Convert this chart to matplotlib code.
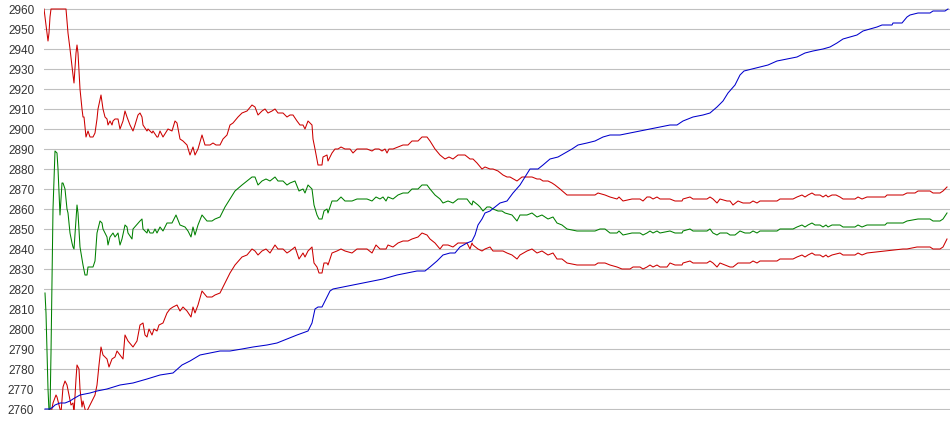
import matplotlib
matplotlib.use("Agg")
import matplotlib.pyplot as plt

# bar index (x) and price levels
up_x = [44, 46, 47, 48, 49, 50, 51, 66, 68, 70, 72, 73, 74, 76, 77, 78, 80, 82, 83, 84, 86, 88, 90, 93, 95, 97, 98,
        101, 103, 105, 107, 108, 110, 112, 113, 115, 118, 120, 123, 125, 127, 130, 133, 135, 138, 140, 142, 143, 147,
        148, 152, 153, 157, 158, 160, 163, 168, 172, 175, 177, 180, 183, 187, 190, 193, 195, 198, 202, 205, 210, 213,
        216, 220, 223, 227, 230, 233, 238, 242, 247, 252, 255, 258, 262, 265, 268, 272, 275, 278, 283, 287, 290, 293,
        297, 300, 303, 305, 308, 312, 313, 315, 318, 322, 323, 327, 328, 332, 335, 338, 341, 345, 350, 353, 357, 367,
        372, 375, 379, 382, 385, 387, 389, 393, 398, 403, 408, 412, 418, 422, 427, 430, 435, 440, 445, 449, 453, 458,
        465, 470, 473, 477, 482, 485, 490, 493, 498, 503, 507, 510, 517, 522, 527, 532, 537, 540, 543, 548, 552, 555,
        560, 567, 577, 595, 598, 605, 610, 617, 619, 623, 632, 640, 643, 647, 650, 653, 657, 660, 670, 675, 682, 683,
        690, 693, 707, 710, 713, 717, 720, 727, 730, 733, 738, 743, 750, 753, 757, 760, 777, 780, 793, 797, 802, 805,
        808, 812, 815, 820, 823, 826, 828, 832, 836, 840, 843, 855, 858, 862, 867, 885, 887, 903, 907, 915, 918, 930,
        933, 940, 943, 947]
upper = [2960, 2952, 2948, 2944, 2948, 2956, 2960, 2960, 2948, 2940, 2931, 2927, 2923, 2938, 2942, 2938, 2920, 2910,
         2906, 2906, 2896, 2899, 2896, 2896, 2898, 2905, 2910, 2917, 2910, 2906, 2905, 2902, 2904, 2902, 2904, 2905,
         2905, 2900, 2904, 2909, 2906, 2902, 2899, 2902, 2907, 2908, 2906, 2902, 2899, 2900, 2898, 2899, 2896, 2896,
         2899, 2896, 2900, 2899, 2904, 2903, 2895, 2894, 2892, 2887, 2891, 2887, 2890, 2897, 2892, 2892, 2893, 2892,
         2892, 2895, 2897, 2902, 2903, 2906, 2908, 2909, 2912, 2911, 2907, 2909, 2910, 2908, 2909, 2910, 2908, 2908,
         2906, 2907, 2907, 2904, 2902, 2902, 2900, 2904, 2902, 2895, 2890, 2882, 2882, 2886, 2887, 2884, 2888, 2890,
         2890, 2891, 2890, 2890, 2888, 2890, 2890, 2889, 2890, 2890, 2889, 2890, 2888, 2890, 2890, 2891, 2892, 2892,
         2894, 2894, 2896, 2896, 2894, 2890, 2887, 2885, 2886, 2885, 2887, 2887, 2885, 2885, 2883, 2880, 2881, 2880,
         2880, 2879, 2877, 2876, 2876, 2874, 2876, 2876, 2876, 2875, 2875, 2874, 2874, 2873, 2872, 2870, 2867, 2867,
         2867, 2868, 2867, 2866, 2865, 2866, 2864, 2865, 2865, 2864, 2866, 2866, 2865, 2866, 2865, 2865, 2864, 2864,
         2865, 2866, 2865, 2865, 2866, 2865, 2863, 2865, 2864, 2864, 2862, 2864, 2863, 2863, 2864, 2863, 2864, 2864,
         2865, 2865, 2866, 2867, 2866, 2867, 2868, 2867, 2867, 2866, 2867, 2866, 2867, 2867, 2866, 2865, 2865, 2866,
         2865, 2866, 2866, 2867, 2867, 2868, 2868, 2869, 2869, 2868, 2868, 2869, 2871]

mid_x = [45, 46, 47, 48, 49, 50, 51, 53, 55, 57, 58, 60, 62, 63, 65, 67, 68, 70, 72, 73, 74, 77, 78, 80, 82, 83, 85,
         87, 88, 93, 95, 97, 100, 102, 103, 107, 108, 110, 113, 115, 118, 120, 122, 125, 127, 128, 132, 133, 140, 142,
         143, 147, 148, 150, 153, 155, 157, 160, 163, 167, 172, 176, 180, 185, 188, 191, 193, 195, 198, 202, 207, 212,
         215, 220, 225, 230, 235, 242, 247, 252, 255, 258, 262, 266, 270, 275, 278, 283, 287, 290, 295, 299, 303, 305,
         308, 312, 314, 317, 319, 322, 324, 327, 328, 332, 337, 341, 345, 352, 357, 367, 372, 376, 380, 383, 386, 388,
         393, 398, 403, 408, 412, 418, 422, 427, 430, 435, 440, 443, 448, 453, 458, 467, 470, 472, 473, 478, 480, 483,
         487, 490, 493, 498, 502, 505, 512, 517, 520, 527, 532, 537, 542, 548, 553, 557, 562, 567, 577, 595, 600, 605,
         610, 617, 619, 623, 632, 640, 643, 647, 650, 653, 657, 660, 670, 675, 682, 683, 690, 693, 707, 710, 713, 717,
         720, 727, 730, 735, 740, 745, 750, 753, 757, 760, 777, 780, 793, 797, 802, 805, 808, 812, 815, 820, 823, 826,
         828, 832, 840, 843, 855, 858, 862, 867, 885, 887, 903, 907, 918, 930, 933, 940, 943, 947]
mid = [2818, 2808, 2790, 2770, 2759, 2759, 2788, 2860, 2889, 2888, 2880, 2857, 2873, 2873, 2870, 2860, 2858, 2848, 2843,
       2841, 2840, 2862, 2858, 2841, 2835, 2832, 2827, 2827, 2831, 2831, 2834, 2848, 2854, 2853, 2850, 2846, 2842, 2846,
       2848, 2846, 2848, 2842, 2845, 2852, 2851, 2848, 2845, 2850, 2854, 2855, 2850, 2848, 2850, 2848, 2848, 2850, 2848,
       2851, 2849, 2853, 2853, 2857, 2852, 2851, 2849, 2846, 2851, 2847, 2852, 2857, 2854, 2854, 2855, 2856, 2861, 2865,
       2869, 2872, 2874, 2876, 2876, 2872, 2874, 2875, 2874, 2876, 2874, 2874, 2872, 2873, 2874, 2869, 2870, 2868, 2872,
       2870, 2862, 2857, 2855, 2855, 2859, 2860, 2858, 2864, 2864, 2866, 2864, 2864, 2865, 2865, 2864, 2866, 2865, 2866,
       2864, 2866, 2865, 2867, 2868, 2868, 2870, 2870, 2872, 2872, 2870, 2867, 2865, 2863, 2864, 2863, 2865, 2865, 2863,
       2862, 2864, 2862, 2861, 2859, 2861, 2861, 2860, 2859, 2859, 2858, 2857, 2854, 2857, 2857, 2858, 2856, 2857, 2855,
       2856, 2853, 2852, 2850, 2849, 2849, 2850, 2850, 2848, 2848, 2849, 2847, 2848, 2848, 2847, 2848, 2849, 2848, 2849,
       2848, 2849, 2848, 2848, 2849, 2850, 2849, 2849, 2850, 2848, 2847, 2848, 2848, 2847, 2847, 2849, 2848, 2848, 2849,
       2848, 2849, 2849, 2850, 2850, 2851, 2852, 2851, 2852, 2853, 2852, 2852, 2851, 2852, 2851, 2852, 2852, 2851, 2851,
       2852, 2851, 2852, 2852, 2853, 2853, 2854, 2855, 2855, 2854, 2854, 2855, 2858]

low_x = [50, 53, 56, 57, 59, 61, 63, 65, 67, 69, 71, 73, 74, 76, 77, 79, 80, 82, 83, 86, 90, 95, 97, 99, 101, 103, 107,
         109, 112, 115, 117, 120, 123, 125, 128, 133, 137, 140, 143, 145, 147, 149, 152, 154, 157, 159, 163, 167, 170,
         173, 177, 180, 183, 187, 191, 193, 195, 198, 202, 207, 212, 215, 220, 225, 230, 235, 242, 247, 252, 255, 258,
         262, 266, 270, 275, 278, 283, 287, 290, 295, 299, 303, 305, 308, 312, 314, 317, 319, 322, 324, 327, 328, 332,
         337, 341, 345, 352, 357, 367, 372, 376, 380, 383, 386, 388, 393, 398, 403, 408, 412, 418, 422, 427, 430, 435,
         440, 443, 448, 453, 458, 467, 470, 472, 473, 478, 482, 485, 490, 493, 498, 503, 507, 512, 517, 520, 527, 532,
         537, 542, 548, 553, 557, 562, 567, 577, 595, 598, 605, 610, 617, 622, 630, 633, 640, 643, 647, 650, 653, 657,
         660, 667, 670, 675, 682, 683, 690, 693, 707, 710, 713, 717, 720, 725, 730, 733, 738, 743, 750, 753, 757, 760,
         777, 780, 793, 797, 802, 805, 808, 812, 815, 820, 823, 826, 828, 832, 840, 843, 855, 858, 862, 867, 885, 903,
         907, 917, 930, 933, 940, 943, 947]
lower = [2755, 2763, 2767, 2766, 2762, 2758, 2771, 2774, 2772, 2767, 2762, 2763, 2758, 2775, 2782, 2780, 2770, 2761,
         2764, 2758, 2762, 2767, 2772, 2782, 2791, 2787, 2785, 2781, 2785, 2786, 2789, 2787, 2785, 2797, 2794, 2791,
         2794, 2802, 2803, 2797, 2796, 2800, 2797, 2800, 2799, 2802, 2803, 2808, 2810, 2811, 2812, 2809, 2811, 2809,
         2806, 2811, 2808, 2812, 2819, 2816, 2816, 2817, 2818, 2823, 2828, 2832, 2836, 2837, 2840, 2839, 2837, 2839,
         2840, 2838, 2842, 2840, 2840, 2838, 2839, 2841, 2835, 2838, 2836, 2839, 2841, 2833, 2831, 2828, 2828, 2833,
         2833, 2832, 2838, 2839, 2840, 2839, 2838, 2840, 2840, 2838, 2842, 2840, 2840, 2840, 2842, 2841, 2843, 2844,
         2844, 2845, 2846, 2848, 2847, 2845, 2843, 2840, 2842, 2842, 2841, 2843, 2843, 2840, 2843, 2842, 2840, 2839,
         2840, 2841, 2839, 2839, 2839, 2838, 2837, 2835, 2837, 2839, 2840, 2838, 2839, 2837, 2838, 2835, 2835, 2833,
         2832, 2832, 2833, 2833, 2832, 2831, 2830, 2830, 2831, 2831, 2830, 2831, 2832, 2831, 2832, 2831, 2831, 2833,
         2832, 2832, 2833, 2834, 2833, 2833, 2834, 2833, 2831, 2833, 2832, 2831, 2831, 2833, 2833, 2833, 2834, 2833,
         2834, 2834, 2835, 2835, 2836, 2837, 2836, 2837, 2838, 2837, 2837, 2836, 2837, 2836, 2837, 2838, 2837, 2837,
         2838, 2837, 2838, 2839, 2840, 2840, 2841, 2841, 2840, 2840, 2841, 2845]

eq_x = [45, 50, 53, 55, 60, 65, 70, 73, 80, 90, 97, 107, 120, 133, 147, 160, 173, 182, 190, 200, 210, 220, 230, 242,
        253, 267, 277, 287, 297, 308, 312, 315, 318, 322, 325, 330, 333, 343, 353, 363, 373, 383, 397, 407, 417, 425,
        430, 437, 443, 450, 455, 460, 467, 472, 475, 478, 482, 485, 490, 495, 500, 507, 513, 520, 525, 530, 538, 543,
        550, 558, 565, 572, 578, 587, 595, 603, 610, 620, 630, 640, 650, 660, 670, 677, 683, 693, 703, 710, 717, 723,
        728, 735, 740, 744, 752, 760, 768, 777, 787, 797, 805, 813, 823, 830, 837, 843, 850, 857, 863, 870, 877, 882,
        892, 893, 902, 907, 910, 918, 930, 933, 945, 948]
equity = [2760, 2760, 2761, 2762, 2763, 2763, 2764, 2765, 2767, 2768, 2769, 2770, 2772, 2773, 2775, 2777, 2778, 2782,
          2784, 2787, 2788, 2789, 2789, 2790, 2791, 2792, 2793, 2795, 2797, 2799, 2803, 2810, 2811, 2811, 2814, 2819,
          2820, 2821, 2822, 2823, 2824, 2825, 2827, 2828, 2829, 2829, 2831, 2834, 2837, 2838, 2838, 2841, 2843, 2844,
          2847, 2852, 2855, 2858, 2859, 2861, 2863, 2864, 2868, 2872, 2876, 2880, 2880, 2882, 2885, 2886, 2888, 2890,
          2892, 2893, 2894, 2896, 2897, 2897, 2898, 2899, 2900, 2901, 2902, 2902, 2904, 2906, 2907, 2908, 2911, 2914,
          2918, 2922, 2927, 2929, 2930, 2931, 2932, 2934, 2935, 2936, 2938, 2939, 2940, 2941, 2943, 2945, 2946, 2947,
          2949, 2950, 2951, 2952, 2952, 2953, 2953, 2956, 2957, 2958, 2958, 2959, 2959, 2960]

y_ticks = list(range(2760, 2961, 10))

fig = plt.figure(figsize=(9.5, 4.35), dpi=100)
ax = fig.add_axes([44 / 950, 24 / 435, 906 / 950, 402 / 435])

ax.plot(up_x, upper, color="#cc0000", lw=0.75)
ax.plot(low_x, lower, color="#cc0000", lw=0.75)
ax.plot(mid_x, mid, color="#008000", lw=0.75)
ax.plot(eq_x, equity, color="#0000cc", lw=0.75)

ax.set_xlim(44, 950)
ax.set_ylim(2759.5, 2960.5)
ax.set_yticks(y_ticks)
ax.set_xticks([])
ax.grid(axis="y", color="#c0c0c0", lw=0.8)
ax.set_axisbelow(True)
for s in ax.spines.values():
    s.set_visible(False)
ax.tick_params(axis="y", length=0, pad=7, labelsize=8.5, labelcolor="#333333")
for lab in ax.get_yticklabels():
    lab.set_fontfamily("Liberation Sans")

fig.savefig("out.png", dpi=100)
